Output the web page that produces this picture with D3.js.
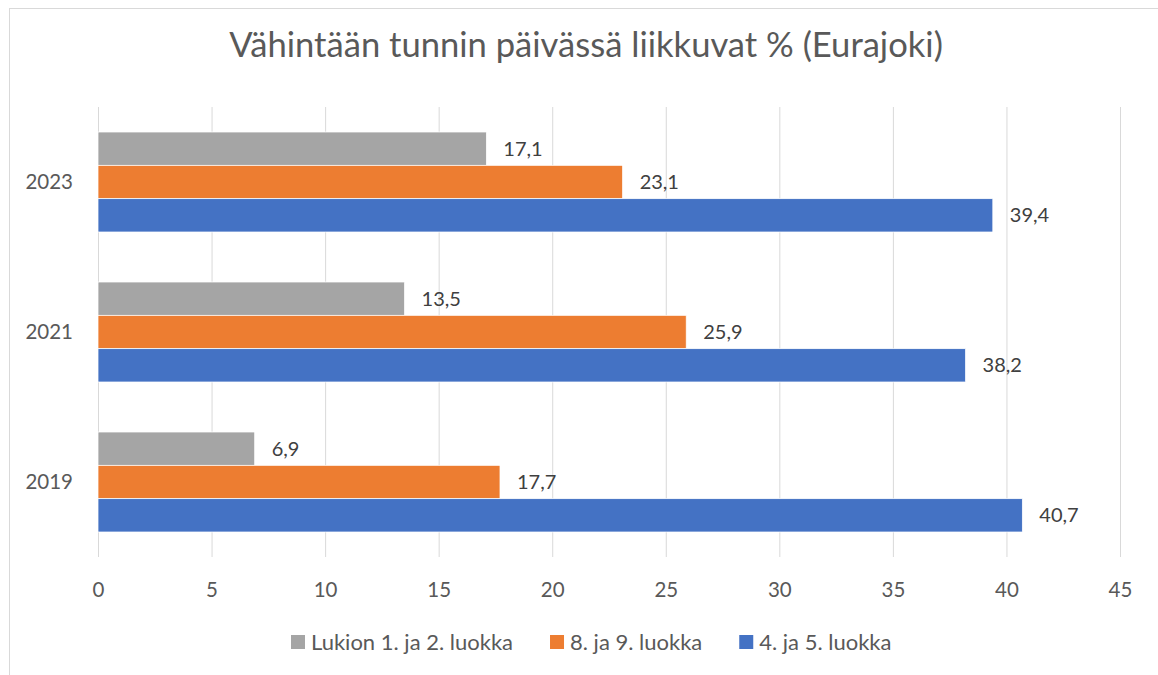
<!DOCTYPE html>
<html>
<head>
<meta charset="utf-8">
<script src="https://cdn.jsdelivr.net/npm/d3@7"></script>
<style>
  body { margin: 0; background: #fff; }
  text { font-family: Lato, "Open Sans", sans-serif; }
</style>
</head>
<body>
<div id="chart"></div>
<script>
const title = "Vähintään tunnin päivässä liikkuvat % (Eurajoki)";
const years = ["2023", "2021", "2019"];
const seriesNames = ["Lukion 1. ja 2. luokka", "8. ja 9. luokka", "4. ja 5. luokka"];
const lukio = [17.1, 13.5, 6.9];
const ysiluokka = [23.1, 25.9, 17.7];
const nelosluokka = [39.4, 38.2, 40.7];
const xTicks = [0, 5, 10, 15, 20, 25, 30, 35, 40, 45];
const colors = ["#a5a5a5", "#ed7d31", "#4472c4"];

const W = 1158, H = 675;
const margin = { top: 107, right: 38, bottom: 118, left: 98 };

const svg = d3.select("#chart").append("svg")
    .attr("width", W)
    .attr("height", H);

// chart frame (only top and left visible in the crop)
svg.append("rect")
    .attr("x", 9.5).attr("y", 8.5)
    .attr("width", W + 20).attr("height", H + 20)
    .attr("fill", "none")
    .attr("stroke", "#d9d9d9");

svg.append("text")
    .attr("x", 586).attr("y", 57)
    .attr("text-anchor", "middle")
    .style("font-size", "34.6px")
    .style("fill", "#595959")
    .text(title);

// SCALES
const x = d3.scaleLinear()
    .domain([0, 45])
    .range([margin.left, W - margin.right]);

const y = d3.scaleBand()
    .domain(years)
    .range([margin.top, H - margin.bottom])
    .paddingInner(1 / 3)
    .paddingOuter(1 / 6);

const ySub = d3.scaleBand()
    .domain(seriesNames)
    .range([0, y.bandwidth()]);

// gridlines
svg.append("g")
    .selectAll("line")
    .data(xTicks)
    .join("line")
    .attr("x1", d => x(d) + 0.5).attr("x2", d => x(d) + 0.5)
    .attr("y1", margin.top).attr("y2", H - margin.bottom)
    .attr("stroke", "#d9d9d9")
    .attr("stroke-width", 1);

// AXES
const xAxis = svg.append("g")
    .attr("transform", "translate(0," + (H - margin.bottom) + ")")
    .call(d3.axisBottom(x).tickValues(xTicks).tickSize(0).tickPadding(25));
xAxis.select(".domain").remove();
xAxis.selectAll("text")
    .style("font-size", "20.5px")
    .style("fill", "#595959");

const yAxis = svg.append("g")
    .attr("transform", "translate(" + margin.left + ",0)")
    .call(d3.axisLeft(y).tickSize(0).tickPadding(25));
yAxis.select(".domain").remove();
yAxis.selectAll("text")
    .style("font-size", "20.5px")
    .style("fill", "#595959");

// BARS
const table = years.map((yr, i) => ({
    year: yr,
    values: [lukio[i], ysiluokka[i], nelosluokka[i]].map((v, j) => ({ name: seriesNames[j], value: v, color: colors[j] }))
}));

const groups = svg.append("g")
    .selectAll("g")
    .data(table)
    .join("g")
    .attr("transform", d => "translate(0," + y(d.year) + ")");

groups.selectAll("rect")
    .data(d => d.values)
    .join("rect")
    .attr("x", x(0))
    .attr("y", d => ySub(d.name))
    .attr("width", d => x(d.value) - x(0))
    .attr("height", ySub.bandwidth())
    .attr("fill", d => d.color)
    .attr("stroke", "#ffffff")
    .attr("stroke-width", 0.75);

groups.selectAll("text")
    .data(d => d.values)
    .join("text")
    .attr("x", d => x(d.value) + 17)
    .attr("y", d => ySub(d.name) + ySub.bandwidth() / 2)
    .attr("dy", "0.35em")
    .style("font-size", "20px")
    .style("fill", "#404040")
    .text(d => d3.format(".1f")(d.value).replace(".", ","));

// LEGEND
const legend = svg.append("g");
let lx = 291;
seriesNames.forEach((name, i) => {
    const item = legend.append("g").attr("transform", "translate(" + lx + ",0)");
    item.append("rect")
        .attr("x", 0).attr("y", 635)
        .attr("width", 14).attr("height", 14)
        .attr("fill", colors[i]);
    const t = item.append("text")
        .attr("x", 20).attr("y", 642)
        .attr("dy", "0.35em")
        .style("font-size", "22px")
        .style("fill", "#595959")
        .text(name);
    lx += 20 + t.node().getComputedTextLength() + 37;
});
</script>
</body>
</html>
